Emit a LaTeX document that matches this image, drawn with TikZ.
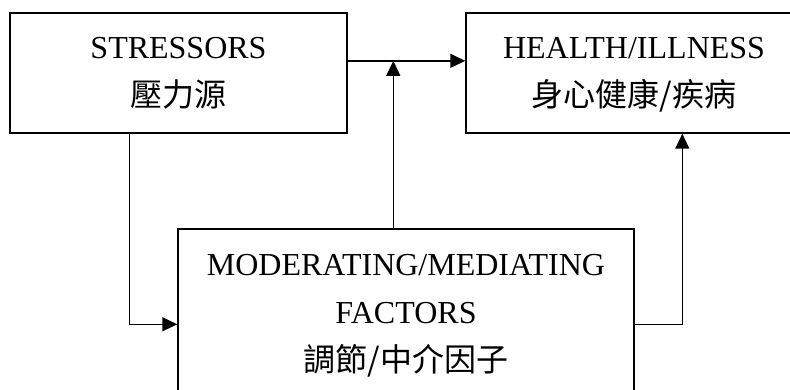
\documentclass[tikz,border=0pt]{standalone}
\usepackage{fontspec}
\setmainfont{Liberation Serif}
\newfontfamily\cjk{Noto Sans CJK TC}
\usetikzlibrary{arrows.meta,calc}
\newcommand\lstrut{\rule[-14pt]{0pt}{48pt}}
\tikzset{
  box/.style={draw, line width=1.4pt, inner sep=0pt, align=center,
    font=\fontsize{32}{48}\selectfont},
  arr/.style={draw, line width=1.4pt, -{Triangle[length=15pt,width=14pt]}}
}
\begin{document}
\begin{tikzpicture}[x=1pt,y=-1pt]
\useasboundingbox (0,0) rectangle (790,390);
\clip (0,0) rectangle (790,390);
\fill[white] (0,0) rectangle (790,390);
\node[box, minimum width=337pt, minimum height=120pt] (S) at (178.5,73)
  {\lstrut STRESSORS\\\lstrut{\cjk 壓力源}};
\node[box, minimum width=336pt, minimum height=120pt] (H) at (634,73)
  {\lstrut HEALTH/ILLNESS\\\lstrut{\cjk 身心健康/疾病}};
\node[box, minimum width=456pt, minimum height=168pt] (M) at (406,313)
  {\lstrut MODERATING/MEDIATING\\\lstrut FACTORS\\\lstrut{\cjk 調節/中介因子}};
\coordinate (a) at ($(S.north east)!0.4!(S.south east)$);
\draw[arr] (a) -- (a -| H.west);
\coordinate (mt) at ($(M.north west)+(216,0)$);
\draw[arr] (mt) -- (mt |- a);
\coordinate (sb) at ($(S.south west)+(120,0)$);
\coordinate (ml) at ($(M.north west)+(0,96)$);
\draw[arr] (sb) |- (ml);
\coordinate (mr) at ($(M.north east)+(0,96)$);
\coordinate (hb) at ($(H.south west)+(217,0)$);
\draw[arr] (mr) -| (hb);
\end{tikzpicture}
\end{document}
